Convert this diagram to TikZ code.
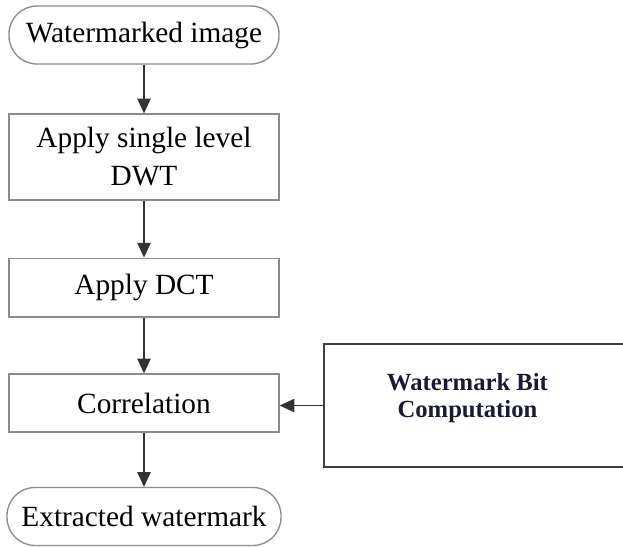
\documentclass[tikz,border=0pt]{standalone}
\usepackage{fontspec}
\setmainfont{Liberation Serif}
\usetikzlibrary{arrows.meta}
\definecolor{boxc}{rgb}{0.55,0.55,0.55}
\definecolor{bitc}{rgb}{0.1,0.1,0.22}

\begin{document}
\begin{tikzpicture}[x=0.75pt, y=-0.75pt, node distance=90pt, >={Triangle[length=11pt,width=10pt]},
  block/.style={rectangle, draw=boxc, line width=1pt, minimum width=202.5pt, minimum height=44pt, align=center, font=\fontsize{22}{28.5}\selectfont},
  term/.style={block, rounded corners=21pt, minimum height=43.5pt},
  bitbox/.style={rectangle, draw=black!75, line width=1.5pt, minimum width=237.75pt, minimum height=92.25pt},
  bittext/.style={align=center, text=bitc, font=\fontsize{18.5}{20}\selectfont\bfseries},
  flow/.style={->, draw=black!80, line width=0.8pt}]

    \useasboundingbox (0,0) rectangle (623,546);

    \node[term] (wm) at (144,35) {Watermarked image};
    \node[block, below of=wm, node distance=91.5pt, minimum height=64.5pt] (dwt) {Apply single level\\DWT};
    \node[block, below of=dwt, node distance=97.9pt] (dct) {Apply DCT};
    \node[block, below of=dct, node distance=86.6pt, minimum height=43.5pt] (corr) {Correlation};
    \node[term, below of=corr, node distance=85.1pt, minimum width=205.5pt] (ext) {Extracted watermark};
    \node[bitbox, right of=corr, node distance=253.5pt, yshift=-1.9pt] (bit) {};
    \node[bittext, xshift=-10.9pt, yshift=5.6pt] (bitlabel) at (bit) {Watermark Bit\\Computation};

    \draw[flow] (wm) -- (dwt);
    \draw[flow] (dwt) -- (dct);
    \draw[flow] (dct) -- (corr);
    \draw[flow] (corr) -- (ext);
    \draw[flow] (bit.west) -- (corr.east |- bit.west);

  \end{tikzpicture}
\end{document}
